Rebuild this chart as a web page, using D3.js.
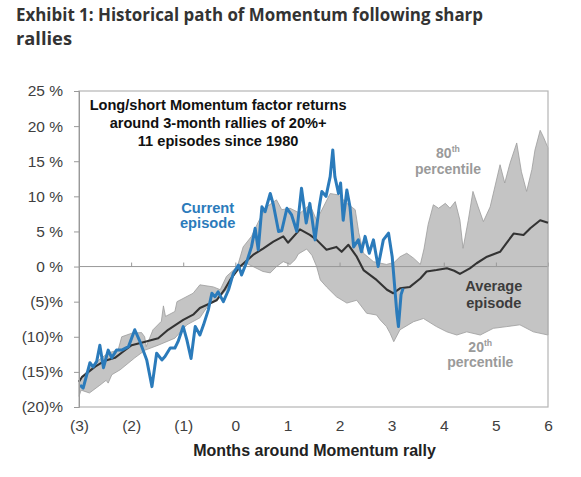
<!DOCTYPE html>
<html>
<head>
<meta charset="utf-8">
<script src="https://cdn.jsdelivr.net/npm/d3@7"></script>
<style>
  body { margin: 0; background: #fff; }
  svg { display: block; }
  .tick text { font-family: "Liberation Sans", Arial, sans-serif; }
</style>
</head>
<body>
<svg id="chart" width="581" height="477"></svg>
<script>
// Data (months around the rally, % return) ---------------------------
const yTicks = [25, 20, 15, 10, 5, 0, -5, -10, -15, -20];
const yTickLabels = ["25 %", "20 %", "15 %", "10 %", "5 %", "0 %", "(5)%", "(10)%", "(15)%", "(20)%"];
const xTicks = [-3, -2, -1, 0, 1, 2, 3, 4, 5, 6];
const xTickLabels = ["(3)", "(2)", "(1)", "0", "1", "2", "3", "4", "5", "6"];

// 80th percentile
const upperBand = [
  [-3.00, -16.2], [-2.85, -15.0], [-2.69, -13.7], [-2.44, -12.3], [-2.25, -11.9],
  [-2.18, -10.0], [-1.99, -9.5], [-1.80, -9.4], [-1.74, -10.0], [-1.71, -11.4],
  [-1.58, -9.0], [-1.42, -7.8], [-1.38, -5.6], [-1.34, -7.1], [-1.16, -6.4],
  [-1.12, -5.0], [-0.81, -3.8], [-0.68, -2.6], [-0.42, -2.9], [-0.29, -3.3],
  [-0.17, -1.4], [0.04, 0.0],
  [0.15, 2.8], [0.31, 4.3], [0.45, 6.5], [0.60, 8.5], [0.79, 9.5],
  [0.89, 8.1], [1.05, 8.3], [1.24, 7.6], [1.43, 8.8], [1.56, 6.6],
  [1.69, 8.5], [1.82, 10.4], [1.98, 10.2], [2.14, 9.0], [2.30, 8.1],
  [2.37, 4.8], [2.46, 1.9], [2.65, 0.7], [2.90, 0.3], [3.05, 0.6],
  [3.16, 1.4], [3.29, 1.9], [3.42, 1.2], [3.55, 0.3], [3.62, 2.5],
  [3.70, 6.0], [3.80, 8.8], [3.90, 8.3], [4.03, 9.0], [4.12, 8.3],
  [4.22, 9.25], [4.31, 6.6], [4.37, 2.6], [4.47, 6.6], [4.56, 10.7],
  [4.66, 8.5], [4.76, 6.4], [4.89, 8.5], [5.08, 14.5], [5.17, 11.9],
  [5.27, 14.7], [5.40, 17.6], [5.49, 13.5], [5.59, 10.7], [5.69, 13.8],
  [5.75, 16.6], [5.85, 19.4], [5.91, 18.5], [6.00, 16.9]
];

// 20th percentile
const lowerBand = [
  [-3.00, -18.5], [-2.96, -17.6], [-2.80, -18.0], [-2.60, -16.9], [-2.48, -16.2],
  [-2.44, -16.6], [-2.37, -15.4], [-2.21, -14.7], [-1.93, -13.0], [-1.73, -11.9],
  [-1.48, -11.2], [-1.16, -10.2], [-0.93, -8.3], [-0.68, -7.3], [-0.49, -5.2],
  [-0.29, -4.3], [-0.17, -3.3],
  [0.03, -0.5], [0.20, 0.5], [0.34, 0.0], [0.53, -0.7], [0.67, -0.9],
  [0.79, 0.0], [0.92, 0.7], [1.05, 0.3], [1.15, 1.0], [1.21, 1.8],
  [1.37, 2.5], [1.47, 1.6], [1.56, 0.0], [1.63, -1.9], [1.75, -2.9],
  [1.94, -4.3], [2.14, -5.2], [2.33, -4.8], [2.52, -6.65], [2.71, -6.9],
  [2.78, -7.6], [2.90, -8.55], [2.97, -9.5], [3.04, -10.7], [3.16, -9.0],
  [3.42, -7.85], [3.61, -7.4], [3.86, -8.55], [4.06, -9.3], [4.25, -9.75],
  [4.44, -9.3], [4.70, -9.75], [4.95, -8.8], [5.21, -8.55], [5.46, -8.3],
  [5.72, -9.3], [6.00, -9.75]
];

// Average episode
const averageEpisode = [
  [-3.00, -16.4], [-2.94, -15.7], [-2.69, -14.25], [-2.50, -13.4], [-2.31, -13.0],
  [-2.15, -12.1], [-1.99, -11.2], [-1.73, -10.7], [-1.48, -10.2], [-1.29, -9.0],
  [-1.00, -7.6], [-0.80, -6.8],
  [-0.68, -5.9], [-0.50, -5.3], [-0.36, -4.8], [-0.20, -3.2], [-0.10, -1.9],
  [0.00, -0.9], [0.09, 0.0], [0.34, 1.65], [0.54, 2.6], [0.73, 3.55],
  [0.92, 4.3], [1.01, 3.4], [1.24, 5.3], [1.43, 4.5], [1.56, 3.8],
  [1.75, 2.4], [1.94, 2.8], [2.04, 2.1], [2.17, 3.1], [2.33, 1.4],
  [2.46, -0.5], [2.71, -1.9], [2.91, -3.3], [3.03, -3.8], [3.16, -3.1],
  [3.35, -2.9], [3.55, -1.7], [3.67, -0.7], [3.86, -0.5], [4.06, -0.25],
  [4.20, -0.6], [4.31, -1.05], [4.50, -0.25], [4.63, 0.47], [4.83, 1.4],
  [5.08, 2.1], [5.20, 3.3], [5.34, 4.7], [5.53, 4.5], [5.66, 5.45],
  [5.85, 6.6], [6.00, 6.25]
];

// Current episode
const currentEpisode = [
  [-2.98, -16.9], [-2.92, -17.3], [-2.79, -13.7], [-2.73, -14.3], [-2.66, -13.5],
  [-2.60, -11.2], [-2.53, -14.4], [-2.44, -11.9], [-2.37, -13.0], [-2.28, -11.9],
  [-2.18, -11.9], [-2.05, -11.4], [-1.93, -9.0], [-1.83, -10.7], [-1.70, -13.3],
  [-1.60, -17.1], [-1.51, -12.35], [-1.41, -13.3], [-1.35, -12.8],
  [-1.25, -11.6], [-1.16, -11.6], [-1.10, -10.7], [-1.00, -8.55], [-0.93, -10.45],
  [-0.85, -13.1], [-0.77, -8.55], [-0.68, -9.75], [-0.61, -8.3], [-0.52, -6.2],
  [-0.45, -3.8], [-0.39, -4.3], [-0.33, -3.6], [-0.23, -5.0], [-0.13, -3.3],
  [-0.04, -1.0], [0.06, 0.2], [0.12, -1.2], [0.22, 0.7], [0.31, 2.8],
  [0.38, 5.45], [0.44, 2.4], [0.51, 8.5], [0.57, 7.8], [0.67, 10.4],
  [0.73, 8.8], [0.83, 5.0], [0.89, 5.1], [0.99, 8.3], [1.08, 7.35],
  [1.18, 5.0], [1.27, 11.15], [1.36, 6.2], [1.43, 9.0], [1.53, 3.8],
  [1.61, 8.5], [1.66, 10.7], [1.74, 10.0], [1.82, 12.8], [1.87, 16.6],
  [1.91, 12.8], [1.98, 10.4], [2.02, 11.9], [2.07, 6.6], [2.14, 10.9],
  [2.20, 8.5], [2.27, 2.8], [2.36, 3.8], [2.42, 2.1], [2.49, 4.3],
  [2.57, 1.9], [2.65, 3.8], [2.74, 0.0], [2.84, 3.8], [2.94, 4.75],
  [3.01, 1.4], [3.10, -6.65], [3.13, -8.55], [3.18, -4.0], [3.22, -3.1]
];

// Annotations: [month, value] of each text baseline
const noteLines = ["Long/short Momentum factor returns", "around 3-month rallies of 20%+", "11 episodes since 1980"];
const notePos = [[-0.33, 22.3], [-0.33, 19.7], [-0.33, 17.1]];
const seriesLabels = [
  { lines: ["Current", "episode"], pos: [[-0.53, 7.6], [-0.53, 5.5]], color: "#2b7bbb", size: 14.7 },
  { lines: ["Average", "episode"], pos: [[4.96, -3.55], [4.96, -5.85]], color: "#3c3c3c", size: 14.6 },
  { lines: ["80|th", "percentile"], pos: [[4.08, 15.45], [4.08, 13.25]], color: "#9a9a9a", size: 14 },
  { lines: ["20|th", "percentile"], pos: [[4.70, -12.1], [4.70, -14.3]], color: "#9a9a9a", size: 14 }
];

// Chart -------------------------------------------------------------
const svg = d3.select("#chart");
const margin = { top: 91, right: 33, bottom: 70, left: 79 };
const width = 581 - margin.left - margin.right;
const height = 477 - margin.top - margin.bottom;

const x = d3.scaleLinear().domain([-3, 6]).range([margin.left, margin.left + width]);
const y = d3.scaleLinear().domain([-20, 25]).range([margin.top + height, margin.top]);

const sans = '"Liberation Sans", Arial, sans-serif';

// Title
const title = svg.append("g")
  .attr("font-family", '"Open Sans", "Noto Sans", sans-serif')
  .attr("font-weight", 700)
  .attr("font-size", 18.5)
  .attr("fill", "#333");
title.append("text").attr("x", 16).attr("y", 20.5)
  .attr("textLength", 467).attr("lengthAdjust", "spacingAndGlyphs")
  .text("Exhibit 1: Historical path of Momentum following sharp");
title.append("text").attr("x", 16).attr("y", 44.5)
  .attr("textLength", 56).attr("lengthAdjust", "spacingAndGlyphs")
  .text("rallies");

// Band between 20th and 80th percentile
const line = d3.line().x(d => x(d[0])).y(d => y(d[1]));
const bandPoints = upperBand.concat(lowerBand.slice().reverse());
svg.append("path")
  .attr("d", line(bandPoints) + "Z")
  .attr("fill", "#c4c4c4")
  .attr("stroke", "#9c9c9c")
  .attr("stroke-width", 0.8);

// Zero line with small ticks
svg.append("line")
  .attr("x1", x(-3)).attr("x2", x(6))
  .attr("y1", y(0)).attr("y2", y(0))
  .attr("stroke", "#999").attr("stroke-width", 1);

svg.append("g")
  .attr("transform", `translate(0,${y(0)})`)
  .call(d3.axisTop(x).tickValues(xTicks).tickSize(4).tickFormat(""))
  .call(g => g.select(".domain").remove())
  .call(g => g.selectAll(".tick line").attr("stroke", "#999"));

// Frame
svg.append("rect")
  .attr("x", x(-3)).attr("y", y(25))
  .attr("width", x(6) - x(-3)).attr("height", y(-20) - y(25))
  .attr("fill", "none")
  .attr("stroke", "#b5b5b5")
  .attr("stroke-width", 1.2);

// Average and current episode lines
svg.append("path")
  .attr("d", line(averageEpisode))
  .attr("fill", "none")
  .attr("stroke", "#333")
  .attr("stroke-width", 2.1)
  .attr("stroke-linejoin", "round");

svg.append("path")
  .attr("d", line(currentEpisode))
  .attr("fill", "none")
  .attr("stroke", "#2b7bbb")
  .attr("stroke-width", 3)
  .attr("stroke-linejoin", "round");

// Y axis
svg.append("g")
  .attr("transform", `translate(${x(-3)},0)`)
  .call(d3.axisLeft(y).tickValues(yTicks).tickSize(5).tickPadding(11)
    .tickFormat((d, i) => yTickLabels[i]))
  .call(g => g.select(".domain").attr("stroke", "#999"))
  .call(g => g.selectAll(".tick line").attr("stroke", "#999"))
  .call(g => g.selectAll(".tick text")
    .attr("font-size", 15.5).attr("fill", "#404040"));

// X axis labels
svg.append("g")
  .attr("transform", `translate(0,${y(-20)})`)
  .call(d3.axisBottom(x).tickValues(xTicks).tickSize(0).tickPadding(13)
    .tickFormat((d, i) => xTickLabels[i]))
  .call(g => g.select(".domain").remove())
  .call(g => g.selectAll(".tick text")
    .attr("font-size", 15.5).attr("fill", "#404040"));

svg.append("text")
  .attr("x", x(1.5) + 1)
  .attr("y", 456)
  .attr("text-anchor", "middle")
  .attr("font-family", sans)
  .attr("font-weight", 700)
  .attr("font-size", 16)
  .attr("fill", "#222")
  .text("Months around Momentum rally");

// Inner note
svg.append("g")
  .selectAll("text")
  .data(noteLines)
  .enter().append("text")
  .attr("x", (d, i) => x(notePos[i][0]))
  .attr("y", (d, i) => y(notePos[i][1]))
  .attr("text-anchor", "middle")
  .attr("font-family", sans)
  .attr("font-weight", 700)
  .attr("font-size", 14.6)
  .attr("fill", "#111")
  .text(d => d);

// Series labels (a "|" marks a superscript part)
seriesLabels.forEach(lab => {
  lab.lines.forEach((txt, i) => {
    const t = svg.append("text")
      .attr("x", x(lab.pos[i][0]))
      .attr("y", y(lab.pos[i][1]))
      .attr("text-anchor", "middle")
      .attr("font-family", sans)
      .attr("font-weight", 700)
      .attr("font-size", lab.size)
      .attr("fill", lab.color);
    const parts = txt.split("|");
    t.append("tspan").text(parts[0]);
    if (parts.length > 1) {
      t.append("tspan")
        .attr("font-size", lab.size * 0.62)
        .attr("dy", -6)
        .text(parts[1]);
    }
  });
});
</script>
</body>
</html>
